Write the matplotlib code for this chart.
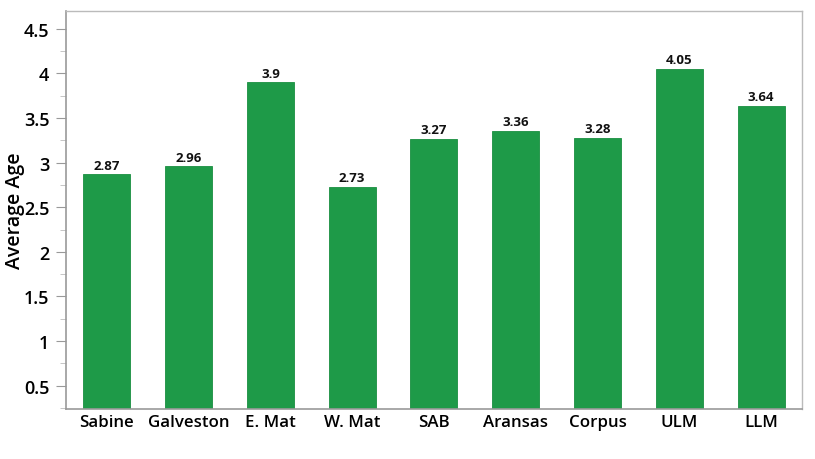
import matplotlib
matplotlib.use("Agg")
import matplotlib.pyplot as plt
from matplotlib.ticker import MultipleLocator

plt.rcParams['font.family'] = ['Open Sans', 'DejaVu Sans']

categories = ["Sabine", "Galveston", "E. Mat", "W. Mat", "SAB", "Aransas", "Corpus", "ULM", "LLM"]
values = [2.87, 2.96, 3.9, 2.73, 3.27, 3.36, 3.28, 4.05, 3.64]
labels = ["2.87", "2.96", "3.9", "2.73", "3.27", "3.36", "3.28", "4.05", "3.64"]
yticks = [0.5, 1, 1.5, 2, 2.5, 3, 3.5, 4, 4.5]
yticklabels = ["0.5", "1", "1.5", "2", "2.5", "3", "3.5", "4", "4.5"]

fig = plt.figure(figsize=(8.15, 4.6), dpi=100)
ax = fig.add_axes([0.081, 0.109, 0.903, 0.865])

x = list(range(len(categories)))
bars = ax.bar(x, values, width=0.575, color="#1e9a48", edgecolor="#1a8e40", linewidth=0.6, bottom=0)
for xi, v, lab in zip(x, values, labels):
    ax.text(xi, v + 0.03, lab, ha="center", va="bottom", fontsize=9.5, fontweight="bold", color="#111111")

ax.set_xlim(-0.5, 8.5)
ax.set_ylim(0.24, 4.70)
ax.set_yticks(yticks)
ax.set_yticklabels(yticklabels, fontsize=13, fontweight="semibold")
ax.yaxis.set_minor_locator(MultipleLocator(0.25))
ax.set_xticks(x)
ax.set_xticklabels(categories, fontsize=12.2, fontweight="semibold")
ax.tick_params(axis="y", which="major", length=7, color="#999999", pad=5)
ax.tick_params(axis="y", which="minor", length=4, color="#bbbbbb")
ax.tick_params(axis="x", length=0, pad=4)
ax.set_ylabel("Average Age", fontsize=14, fontweight="semibold")
ax.yaxis.label.set_va("center")
ax.yaxis.set_label_coords(-0.069, 0.5)

for s in ["left", "bottom"]:
    ax.spines[s].set_color("#999999")
    ax.spines[s].set_linewidth(1.2)
for s in ["top", "right"]:
    ax.spines[s].set_color("#bbbbbb")
    ax.spines[s].set_linewidth(1.0)

fig.savefig("out.png", dpi=100, facecolor="white")
